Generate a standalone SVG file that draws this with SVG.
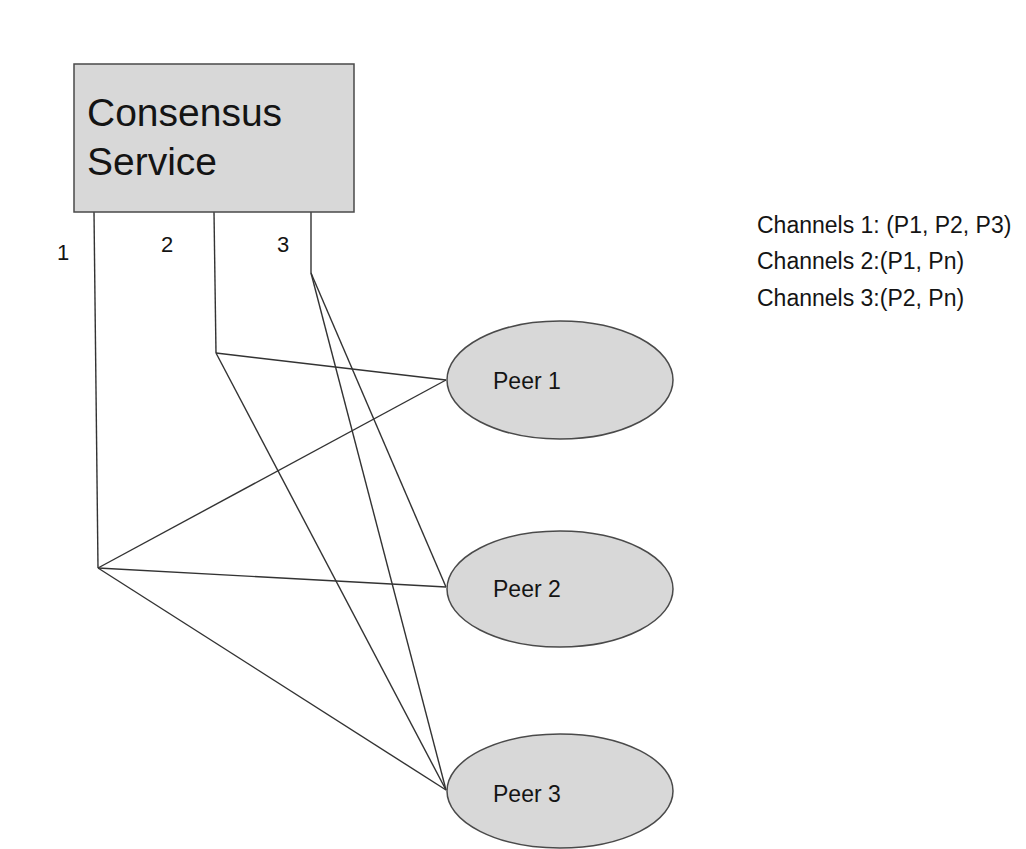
<svg xmlns="http://www.w3.org/2000/svg" width="1026" height="849" viewBox="0 0 1026 849">
  <style>
    .shape { fill: #d8d8d8; stroke: #4a4a4a; stroke-width: 1.5; }
    .wire { fill: none; stroke: #333333; stroke-width: 1.4; stroke-linejoin: miter; }
    .txt { font-family: "Liberation Sans", Arial, sans-serif; fill: #141414; }
    .big { font-size: 39px; }
    .mid { font-size: 23px; }
    .num { font-size: 22px; }
  </style>
  <rect x="0" y="0" width="1026" height="849" fill="#ffffff"/>

  <!-- channel wires from the service to the peers -->
  <g id="connectors">
    <!-- channel 1 -->
    <polyline class="wire" points="94,212 98,568"/>
    <line class="wire" x1="98" y1="568" x2="446" y2="380"/>
    <line class="wire" x1="98" y1="568" x2="446" y2="587"/>
    <line class="wire" x1="98" y1="568" x2="446" y2="790"/>
    <!-- channel 2 -->
    <polyline class="wire" points="214,212 216,353"/>
    <line class="wire" x1="216" y1="353" x2="446" y2="380"/>
    <line class="wire" x1="216" y1="353" x2="446" y2="790"/>
    <!-- channel 3 -->
    <polyline class="wire" points="311,212 311,273"/>
    <line class="wire" x1="311" y1="273" x2="446" y2="587"/>
    <line class="wire" x1="311" y1="273" x2="446" y2="790"/>
  </g>

  <g id="consensus-service">
    <rect class="shape" x="74" y="64" width="280" height="148"/>
    <text class="txt big" x="87" y="126">Consensus</text>
    <text class="txt big" x="87" y="175">Service</text>
  </g>

  <g id="channel-labels">
    <text class="txt num" x="57" y="260">1</text>
    <text class="txt num" x="161" y="252">2</text>
    <text class="txt num" x="277" y="252">3</text>
  </g>

  <g id="peer-1">
    <ellipse class="shape" cx="560" cy="380" rx="113" ry="59"/>
    <text class="txt mid" x="493" y="389">Peer 1</text>
  </g>

  <g id="peer-2">
    <ellipse class="shape" cx="560" cy="589" rx="113" ry="58"/>
    <text class="txt mid" x="493" y="597">Peer 2</text>
  </g>

  <g id="peer-3">
    <ellipse class="shape" cx="560" cy="791" rx="113" ry="57"/>
    <text class="txt mid" x="493" y="802">Peer 3</text>
  </g>

  <g id="legend">
    <text class="txt mid" x="757" y="233">Channels 1: (P1, P2, P3)</text>
    <text class="txt mid" x="757" y="269">Channels 2:(P1, Pn)</text>
    <text class="txt mid" x="757" y="306">Channels 3:(P2, Pn)</text>
  </g>
</svg>
